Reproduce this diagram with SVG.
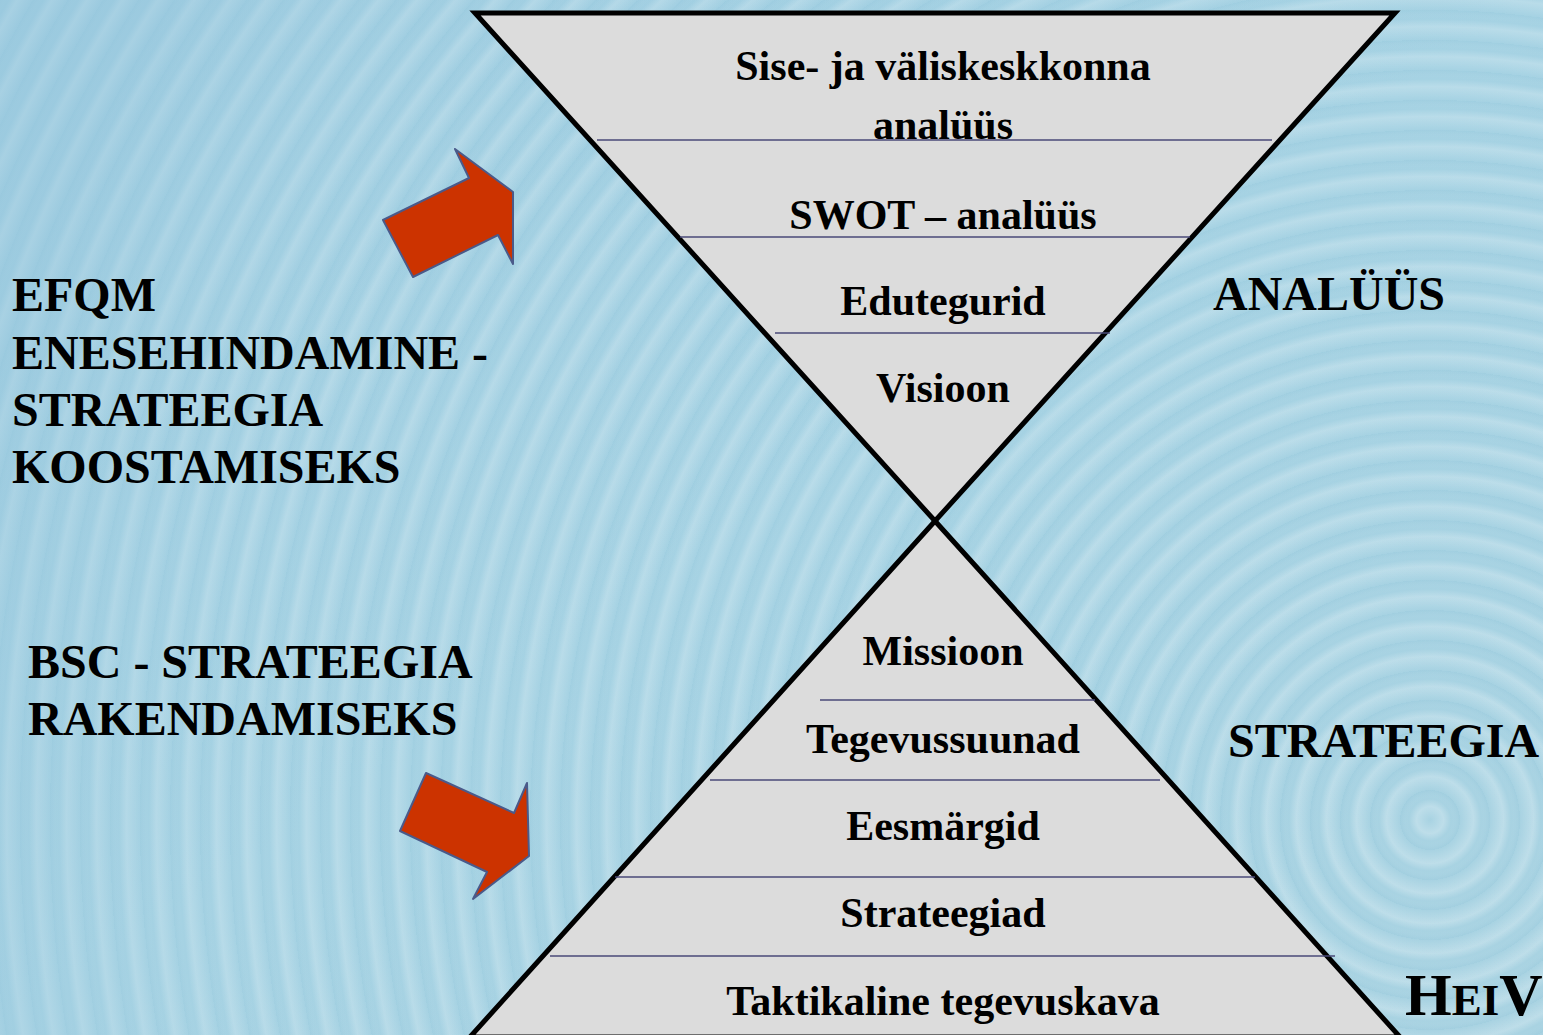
<svg xmlns="http://www.w3.org/2000/svg" width="1543" height="1035" viewBox="0 0 1543 1035">
<defs>
<linearGradient id="bg" x1="0" y1="0" x2="1" y2="1">
<stop offset="0" stop-color="#9ccbe0"/>
<stop offset="0.5" stop-color="#a5d2e3"/>
<stop offset="1" stop-color="#a9d3e2"/>
</linearGradient>
<radialGradient id="ripple" gradientUnits="userSpaceOnUse" cx="1430" cy="820" r="30" spreadMethod="repeat">
<stop offset="0" stop-color="#ffffff" stop-opacity="0"/>
<stop offset="0.45" stop-color="#ffffff" stop-opacity="0.25"/>
<stop offset="0.7" stop-color="#ffffff" stop-opacity="0"/>
<stop offset="1" stop-color="#5aa0c0" stop-opacity="0.08"/>
</radialGradient>
<radialGradient id="fade" gradientUnits="userSpaceOnUse" cx="1430" cy="820" r="1500">
<stop offset="0" stop-color="#a9d4e4" stop-opacity="0"/>
<stop offset="0.8" stop-color="#a9d4e4" stop-opacity="0.2"/>
<stop offset="1" stop-color="#9ac9de" stop-opacity="0.5"/>
</radialGradient>
</defs>
<style>
.t{font-family:"Liberation Serif","Times New Roman",serif;font-weight:bold;fill:#000}
.in{font-size:42px;text-anchor:middle}
.big{font-size:48px}
.tri{fill:#dcdcdc;stroke:#000;stroke-width:5;stroke-linejoin:miter}
.div{stroke:#4a4a78;stroke-width:1.5}
.arrow{fill:#cc3300;stroke:#4a5a8a;stroke-width:2;stroke-linejoin:round}
</style>
<g id="background">
<rect width="1543" height="1035" fill="url(#bg)"/>
<rect width="1543" height="1035" fill="url(#ripple)"/>
<rect width="1543" height="1035" fill="url(#fade)"/>
</g>
<g id="top-funnel">
<polygon class="tri" points="475,13 1395,13 935,521"/>
<line class="div" x1="597" y1="140" x2="1272" y2="140"/>
<line class="div" x1="680" y1="237" x2="1190" y2="237"/>
<line class="div" x1="775" y1="333" x2="1110" y2="333"/>
</g>
<g id="bottom-pyramid">
<polygon class="tri" points="935,521 1400,1037 470,1037"/>
<line class="div" x1="820" y1="700" x2="1095" y2="700"/>
<line class="div" x1="710" y1="780" x2="1160" y2="780"/>
<line class="div" x1="615" y1="877" x2="1255" y2="877"/>
<line class="div" x1="550" y1="956" x2="1335" y2="956"/>
</g>
<g id="n-sise"><text class="t in" x="943" y="80">Sise- ja väliskeskkonna</text><text class="t in" x="943" y="139">analüüs</text></g>
<g id="n-swot"><text class="t in" x="943" y="229">SWOT – analüüs</text></g>
<g id="n-edutegurid"><text class="t in" x="943" y="315">Edutegurid</text></g>
<g id="n-visioon"><text class="t in" x="943" y="402">Visioon</text></g>
<g id="n-missioon"><text class="t in" x="943" y="665">Missioon</text></g>
<g id="n-tegevussuunad"><text class="t in" x="943" y="753">Tegevussuunad</text></g>
<g id="n-eesmargid"><text class="t in" x="943" y="840">Eesmärgid</text></g>
<g id="n-strateegiad"><text class="t in" x="943" y="927">Strateegiad</text></g>
<g id="n-taktikaline"><text class="t in" x="943" y="1015">Taktikaline tegevuskava</text></g>
<g id="n-efqm">
<text class="t big" x="12" y="311">EFQM</text>
<text class="t big" x="12" y="369">ENESEHINDAMINE -</text>
<text class="t big" x="12" y="426">STRATEEGIA</text>
<text class="t big" x="12" y="483">KOOSTAMISEKS</text>
</g>
<g id="n-bsc">
<text class="t big" x="28" y="678">BSC - STRATEEGIA</text>
<text class="t big" x="28" y="735">RAKENDAMISEKS</text>
</g>
<g id="n-analuus"><text class="t big" x="1213" y="310">ANALÜÜS</text></g>
<g id="n-strateegia"><text class="t big" x="1228" y="757">STRATEEGIA</text></g>
<g id="n-heiv"><text class="t" x="1405" y="1015" style="font-size:60px">H<tspan style="font-size:45px">EI</tspan>V</text></g>
<g id="connectors">
<polygon class="arrow" points="383,220 469,178 455,149 513,192 513,264 498,235 413,277"/>
<polygon class="arrow" points="426,773 514,813 527,783 529,856 473,899 487,872 400,831"/>
</g>
</svg>
